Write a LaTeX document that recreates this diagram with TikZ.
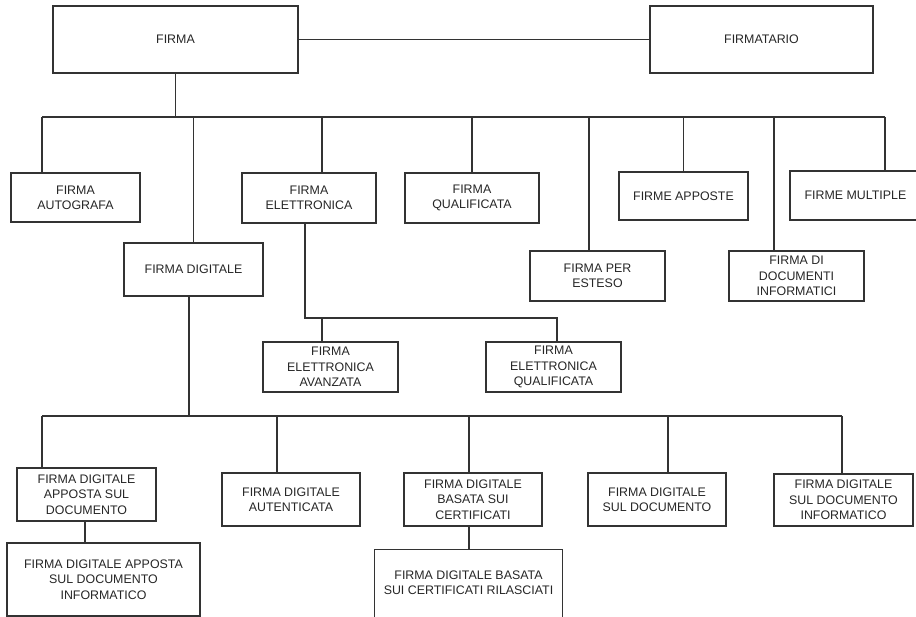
\documentclass[tikz,border=0pt]{standalone}
\usepackage{fontspec}
\setmainfont{Liberation Sans}
\begin{document}
\begin{tikzpicture}[x=1pt,y=-1pt,
  box/.style={draw=black!80, line width=1.2pt, align=center, inner sep=1pt,
    text=black!85, font=\fontsize{12.4}{15.3}\selectfont},
  openbox/.style={align=center, inner sep=1pt,
    text=black!85, font=\fontsize{12.4}{15.3}\selectfont},
  conn/.style={draw=black!80, line width=1.2pt}]
\useasboundingbox (0,0) rectangle (916,617);
\clip (0,0) rectangle (916,617);
% top level
\node[box, minimum width=245pt, minimum height=67pt] (firma) at (175.5,39.5) {FIRMA};
\node[box, minimum width=223pt, minimum height=67pt] (firmatario) at (761.5,39.5) {FIRMATARIO};
% second level
\node[box, minimum width=129pt, minimum height=49pt] (aut) at (75.5,197.5) {FIRMA\\AUTOGRAFA};
\node[box, minimum width=134pt, minimum height=50pt] (ele) at (309,198) {FIRMA\\ELETTRONICA};
\node[box, minimum width=134pt, minimum height=50pt] (qual) at (472,198) {FIRMA\\QUALIFICATA};
\node[box, minimum width=129pt, minimum height=48pt] (app) at (683.5,196) {FIRME APPOSTE};
\node[box, minimum width=131pt, minimum height=49pt] (mult) at (855.5,195.5) {FIRME MULTIPLE};
\node[box, minimum width=139pt, minimum height=53pt] (dig) at (193.5,269.5) {FIRMA DIGITALE};
\node[box, minimum width=135pt, minimum height=50pt] (est) at (597.5,276) {FIRMA PER\\ESTESO};
\node[box, minimum width=135pt, minimum height=50pt] (docinf) at (796.5,276) {FIRMA DI\\DOCUMENTI\\INFORMATICI};
% elettronica children
\node[box, minimum width=135pt, minimum height=50pt] (avz) at (330.5,367) {FIRMA\\ELETTRONICA\\AVANZATA};
\node[box, minimum width=135pt, minimum height=50pt] (eq) at (553.5,367) {FIRMA\\ELETTRONICA\\QUALIFICATA};
% digitale children
\node[box, minimum width=139pt, minimum height=53pt] (d1) at (86.5,494.5) {FIRMA DIGITALE\\APPOSTA SUL\\DOCUMENTO};
\node[box, minimum width=138pt, minimum height=53pt] (d2) at (291,499.5) {FIRMA DIGITALE\\AUTENTICATA};
\node[box, minimum width=138pt, minimum height=53pt] (d3) at (473,499.5) {FIRMA DIGITALE\\BASATA SUI\\CERTIFICATI};
\node[box, minimum width=138pt, minimum height=53pt] (d4) at (657,499.5) {FIRMA DIGITALE\\SUL DOCUMENTO};
\node[box, minimum width=139pt, minimum height=52pt] (d5) at (843.5,500) {FIRMA DIGITALE\\SUL DOCUMENTO\\INFORMATICO};
\node[box, minimum width=193pt, minimum height=73pt] (d6) at (103.5,579.5) {FIRMA DIGITALE APPOSTA\\SUL DOCUMENTO\\INFORMATICO};
\node[openbox, minimum width=187pt, minimum height=65pt] (d7) at (468.5,582.5) {FIRMA DIGITALE BASATA\\SUI CERTIFICATI RILASCIATI};
\draw[conn] ([yshift=-12pt]d7.south west) -- (d7.north west) -- (d7.north east) -- ([yshift=-12pt]d7.south east);
% connectors
\draw[conn] (firma) -- (firmatario);
\coordinate (ta) at (42,117);
\coordinate (td) at (193.5,117);
\coordinate (te) at (322,117);
\coordinate (tq) at (472,117);
\coordinate (tp) at (589,117);
\coordinate (tap) at (683.5,117);
\coordinate (tdi) at (774,117);
\coordinate (tm) at (885,117);
\draw[conn] (firma.south) -- (firma.south |- ta);
\draw[conn] (ta) -- (tm);
\draw[conn] (ta) -- (ta |- aut.north);
\draw[conn] (td) -- (dig.north);
\draw[conn] (te) -- (te |- ele.north);
\draw[conn] (tq) -- (tq |- qual.north);
\draw[conn] (tp) -- (tp |- est.north);
\draw[conn] (tap) -- (tap |- app.north);
\draw[conn] (tdi) -- (tdi |- docinf.north);
\draw[conn] (tm) -- (tm |- mult.north);
% elettronica sub-tree
\coordinate (e1) at (305,318);
\coordinate (e2) at (557,318);
\coordinate (e3) at (322,318);
\draw[conn] (e1 |- ele.south) -- (e1) -- (e2) -- (e2 |- eq.north);
\draw[conn] (e3) -- (e3 |- avz.north);
% digitale sub-tree
\coordinate (g0) at (189,416);
\coordinate (g1) at (42,416);
\coordinate (g2) at (277,416);
\coordinate (g3) at (469,416);
\coordinate (g4) at (668,416);
\coordinate (g5) at (842,416);
\draw[conn] (g0 |- dig.south) -- (g0);
\draw[conn] (g1) -- (g5);
\draw[conn] (g1) -- (g1 |- d1.north);
\draw[conn] (g2) -- (g2 |- d2.north);
\draw[conn] (g3) -- (g3 |- d3.north);
\draw[conn] (g4) -- (g4 |- d4.north);
\draw[conn] (g5) -- (g5 |- d5.north);
\coordinate (s1) at (85,530);
\coordinate (s3) at (469,530);
\draw[conn] (s1 |- d1.south) -- (s1 |- d6.north);
\draw[conn] (s3 |- d3.south) -- (s3 |- d7.north);
\end{tikzpicture}
\end{document}
